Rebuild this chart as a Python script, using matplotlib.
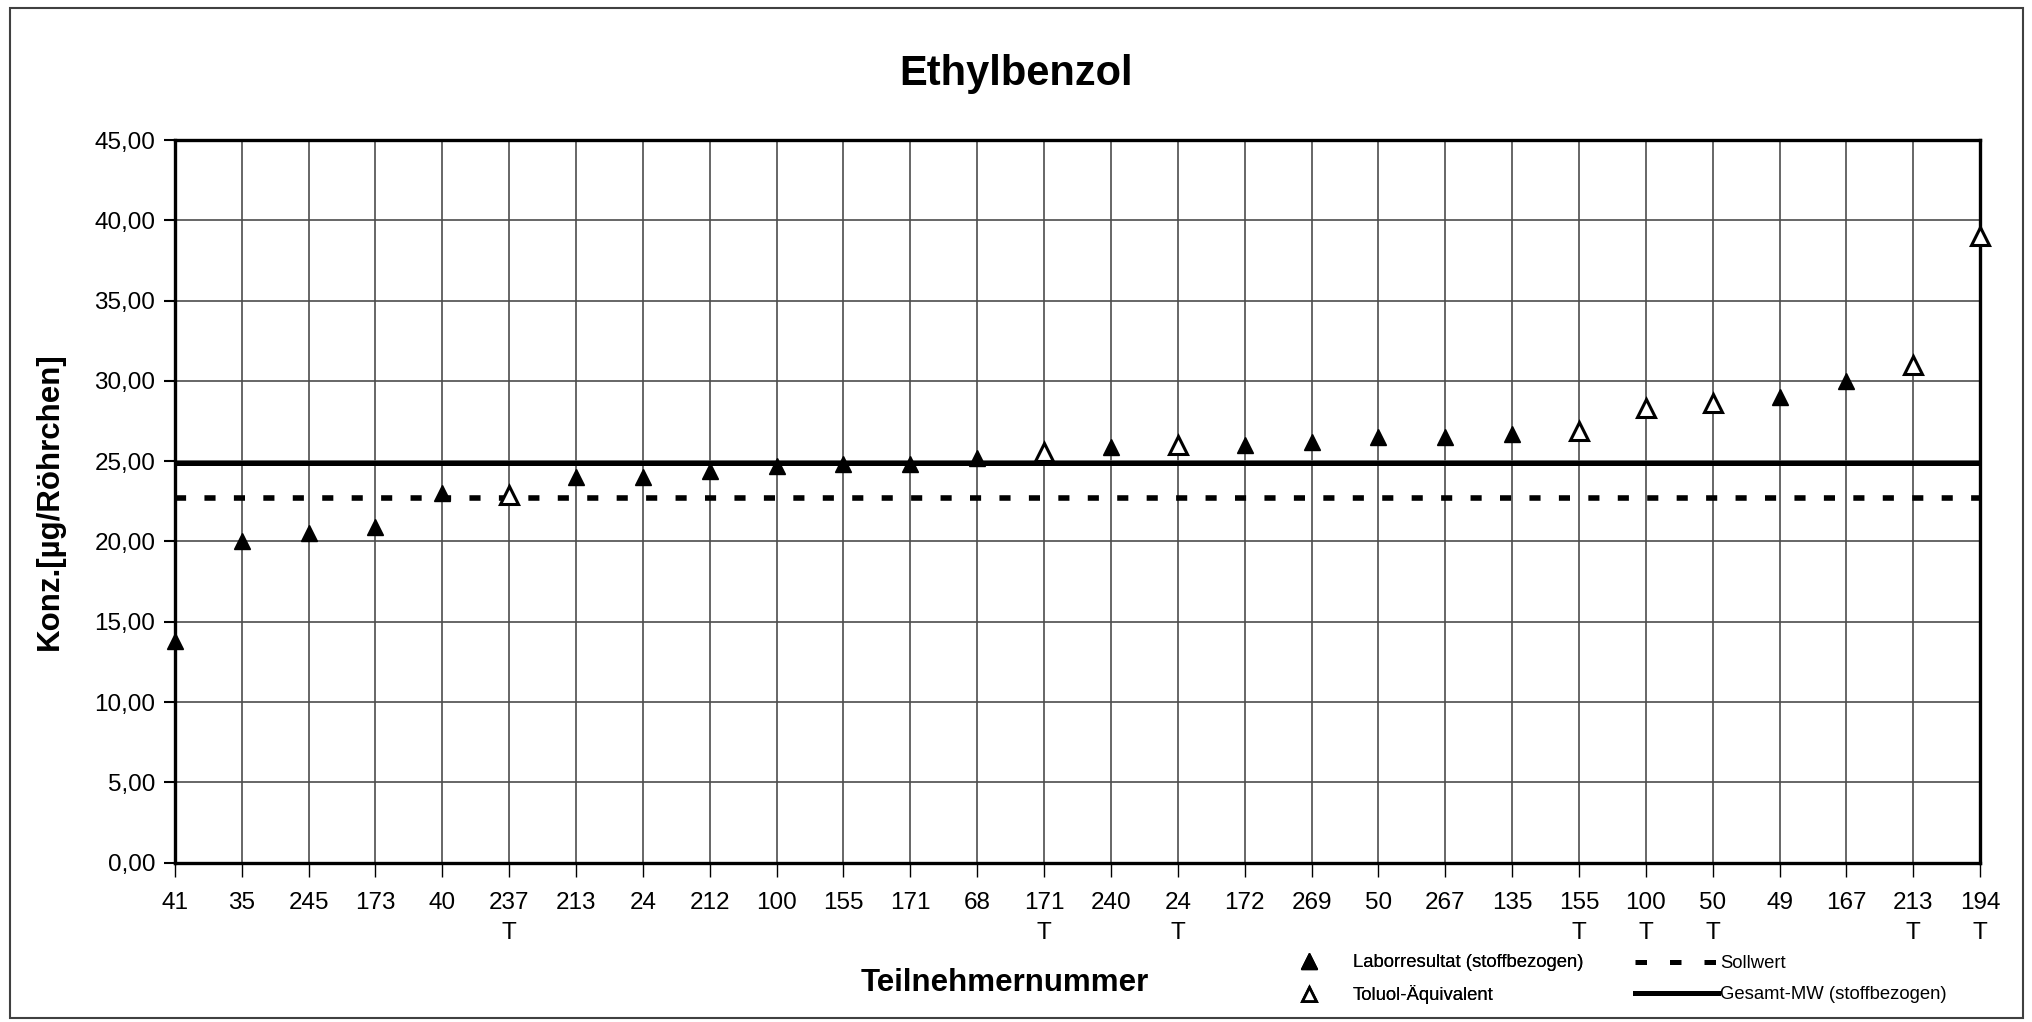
import numpy as np
import matplotlib.pyplot as plt
from matplotlib.ticker import FuncFormatter
from matplotlib.lines import Line2D
from matplotlib.patches import Rectangle

plt.rcParams['font.family'] = ['Liberation Sans', 'DejaVu Sans']

# participant labels along the x axis (T = Toluol-Aequivalent)
teilnehmer = ["41", "35", "245", "173", "40", "237\nT", "213", "24", "212", "100",
              "155", "171", "68", "171\nT", "240", "24\nT", "172", "269", "50", "267",
              "135", "155\nT", "100\nT", "50\nT", "49", "167", "213\nT", "194\nT"]
werte = [13.8, 20.0, 20.5, 20.9, 23.0, 22.9, 24.0, 24.0, 24.4, 24.7,
         24.8, 24.8, 25.2, 25.6, 25.9, 26.0, 26.0, 26.2, 26.5, 26.5,
         26.7, 26.9, 28.3, 28.6, 29.0, 30.0, 31.0, 39.0]
toluol = [False, False, False, False, False, True, False, False, False, False,
          False, False, False, True, False, True, False, False, False, False,
          False, True, True, True, False, False, True, True]
sollwert = 22.7
gesamt_mw = 24.9
y_ticks = [0, 5, 10, 15, 20, 25, 30, 35, 40, 45]


def main():
    fig = plt.figure(figsize=(20.33, 10.22), dpi=100)
    ax = fig.add_axes([0.086, 0.156, 0.888, 0.707])

    x = np.arange(len(werte))
    werte_arr = np.array(werte)
    t_mask = np.array(toluol)

    # reference lines
    ax.axhline(sollwert, color='black', lw=4.0, ls=(0, (2.0, 3.3)), zorder=3)
    ax.axhline(gesamt_mw, color='black', lw=3.6, zorder=3)

    # lab results and toluene equivalents
    ax.plot(x[~t_mask], werte_arr[~t_mask], ls='none', marker='^', ms=11.5,
            color='black', clip_on=False, zorder=5)
    ax.plot(x[t_mask], werte_arr[t_mask], ls='none', marker='^', ms=12.5,
            mfc='white', mec='black', mew=2.2, clip_on=False, zorder=5)

    ax.set_xlim(0, len(werte) - 1)
    ax.set_ylim(0, 45)
    ax.set_xticks(x)
    ax.set_xticklabels(teilnehmer, fontsize=17.5, linespacing=1.5)
    ax.set_yticks(y_ticks)
    ax.yaxis.set_major_formatter(FuncFormatter(lambda v, p: f"{v:.2f}".replace(".", ",")))
    ax.tick_params(axis='y', labelsize=17.5, length=8, width=1.5, direction='out', pad=6)
    ax.tick_params(axis='x', length=10, width=1.0, direction='out', pad=11)

    ax.grid(True, color='0.3', lw=1.2)
    ax.set_axisbelow(True)
    for s in ax.spines.values():
        s.set_linewidth(2.4)
        s.set_color('black')

    ax.set_ylabel("Konz.[µg/Röhrchen]", fontsize=22.5, fontweight='bold')
    ax.yaxis.set_label_coords(-0.061, 0.5)
    fig.text(0.494, 0.038, "Teilnehmernummer", fontsize=22.5, fontweight='bold',
             ha='center', va='center')
    fig.text(0.5, 0.928, "Ethylbenzol", fontsize=30, fontweight='bold',
             ha='center', va='center')

    # legend, two separate blocks like the original layout
    marker_handles = [
        Line2D([], [], ls='none', marker='^', ms=11, color='black'),
        Line2D([], [], ls='none', marker='^', ms=9.5, mfc='white', mec='black', mew=2.0),
    ]
    line_handles = [
        Line2D([], [], color='black', lw=3.6, ls=(0, (2.3, 4.6))),
        Line2D([], [], color='black', lw=3.6),
    ]
    leg1 = fig.legend(marker_handles, ["Laborresultat (stoffbezogen)", "Toluol-Äquivalent"],
                      loc='center left', bbox_to_anchor=(0.635, 0.042), frameon=False,
                      fontsize=13.3, handlelength=2.0, handletextpad=1.35,
                      labelspacing=0.75, borderpad=0, borderaxespad=0)
    fig.add_artist(leg1)
    fig.legend(line_handles, ["Sollwert", "Gesamt-MW (stoffbezogen)"],
               loc='center left', bbox_to_anchor=(0.804, 0.042), frameon=False,
               fontsize=13.3, handlelength=4.5, handletextpad=0.15,
               labelspacing=0.75, borderpad=0, borderaxespad=0)

    # outer chart border
    fig.patches.append(Rectangle((0.005, 0.004), 0.99, 0.988, transform=fig.transFigure,
                                 fill=False, ec='0.25', lw=1.5))

    fig.savefig("out.png", dpi=100, facecolor='white')


if __name__ == "__main__":
    main()
